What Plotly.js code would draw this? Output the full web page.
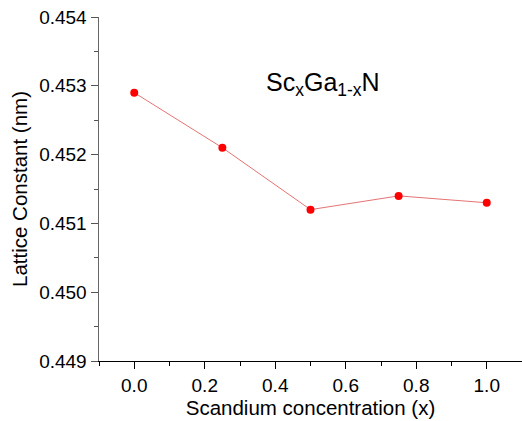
<!DOCTYPE html>
<html>
<head>
<meta charset="utf-8">
<script src="https://cdn.plot.ly/plotly-3.0.1.min.js"></script>
<style>html,body{margin:0;padding:0;background:#fff;}#chart{width:522px;height:421px;}</style>
</head>
<body>
<div id="chart"></div>
<script>
const scConcentration = [0.0, 0.25, 0.5, 0.75, 1.0];
const latticeConstant = [0.4529, 0.4521, 0.4512, 0.4514, 0.4513];
const xTickVals = [0.0, 0.2, 0.4, 0.6, 0.8, 1.0];
const xTickText = ["0.0", "0.2", "0.4", "0.6", "0.8", "1.0"];
const yTickVals = [0.449, 0.450, 0.451, 0.452, 0.453, 0.454];
const yTickText = ["0.449", "0.450", "0.451", "0.452", "0.453", "0.454"];

const font = "Arial, 'Liberation Sans', sans-serif";

const trace = {
  x: scConcentration,
  y: latticeConstant,
  type: "scatter",
  mode: "lines+markers",
  line: {color: "#e57373", width: 1},
  marker: {color: "#ff0000", size: 8},
  cliponaxis: false,
  hoverinfo: "none"
};

const layout = {
  width: 522,
  height: 421,
  margin: {l: 99, r: 0, t: 17, b: 60},
  paper_bgcolor: "#ffffff",
  plot_bgcolor: "#ffffff",
  showlegend: false,
  font: {family: font, color: "#000"},
  xaxis: {
    range: [-0.1, 1.1],
    tickvals: xTickVals,
    ticktext: xTickText,
    ticks: "outside",
    ticklen: 7,
    tickwidth: 1,
    tickcolor: "#000",
    minor: {dtick: 0.1, ticks: "outside", ticklen: 4, tickcolor: "#000", showgrid: false},
    showline: true,
    linecolor: "#000",
    linewidth: 1,
    showgrid: false,
    zeroline: false,
    tickfont: {size: 19, family: font, color: "#000"},
    title: {text: "Scandium concentration (x)", font: {size: 20.5, family: font, color: "#000"}, standoff: 4}
  },
  yaxis: {
    range: [0.449, 0.454],
    tickvals: yTickVals,
    ticktext: yTickText,
    ticks: "outside",
    ticklen: 7,
    tickwidth: 1,
    tickcolor: "#555",
    minor: {dtick: 0.0005, ticks: "outside", ticklen: 4, tickcolor: "#555", showgrid: false},
    showline: true,
    linecolor: "#666",
    linewidth: 1.5,
    showgrid: false,
    zeroline: false,
    tickfont: {size: 19, family: font, color: "#000"},
    title: {text: "Lattice Constant (nm)", font: {size: 20.5, family: font, color: "#000"}, standoff: 6}
  },
  annotations: [{
    xref: "paper", yref: "paper",
    x: 0.53, y: 0.805,
    xanchor: "center", yanchor: "middle",
    text: "Sc<sub>x</sub>Ga<sub>1-x</sub>N",
    showarrow: false,
    font: {size: 25, family: font, color: "#000"}
  }]
};

Plotly.newPlot("chart", [trace], layout, {staticPlot: true, displayModeBar: false});
</script>
</body>
</html>
